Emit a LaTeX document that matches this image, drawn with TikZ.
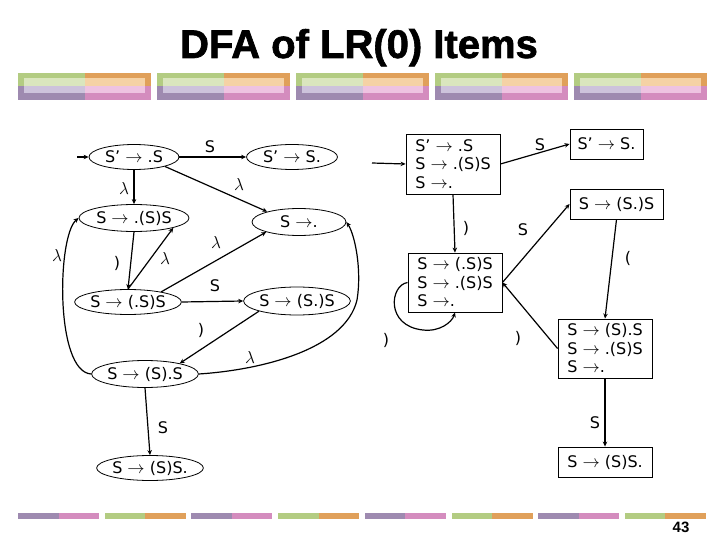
\documentclass[tikz,border=0pt]{standalone}
\usepackage{fontspec}
\setmainfont{DejaVu Sans}
\newfontfamily\titlefont[BoldFeatures={FakeBold=1.6}]{Liberation Sans}
\newfontfamily\pagefont{Liberation Sans}
\usetikzlibrary{shapes.geometric,arrows.meta}
\newcommand{\rarr}{\ensuremath{\rightarrow}}
\definecolor{cg}{RGB}{179,204,130}
\definecolor{co}{RGB}{224,160,90}
\definecolor{cp}{RGB}{158,138,176}
\definecolor{ck}{RGB}{212,140,190}
\definecolor{lg}{RGB}{218,230,190}
\definecolor{lo}{RGB}{245,210,165}
\definecolor{lp}{RGB}{205,195,220}
\definecolor{lk}{RGB}{238,195,225}
\begin{document}
\begin{tikzpicture}[x=1pt,y=-1pt,
  st/.style={ellipse, draw, line width=0.8pt, inner sep=0pt, font=\fontsize{16}{18}\selectfont},
  bx/.style={draw, rectangle, line width=0.9pt, inner sep=0pt, align=left, font=\fontsize{16}{18.5}\selectfont},
  tr/.style={line width=1.2pt, -{Stealth[length=5pt,width=4.5pt]}},
  lb/.style={font=\fontsize{16}{18}\selectfont, inner sep=0pt},
  lam/.style={font=\fontsize{18}{18}\selectfont, inner sep=0pt}]
\useasboundingbox (0,0) rectangle (720,540);
% top decorative bars
\foreach \i in {0,...,4}{
  \pgfmathsetmacro\bx{18+\i*139}
  \fill[cg] (\bx,73) rectangle (\bx+66.5,86.5);
  \fill[co] (\bx+66.5,73) rectangle (\bx+133,86.5);
  \fill[cp] (\bx,86.5) rectangle (\bx+66.5,100);
  \fill[ck] (\bx+66.5,86.5) rectangle (\bx+133,100);
  \fill[lg] (\bx+6,78.5) rectangle (\bx+66.5,86.5);
  \fill[lo] (\bx+66.5,78.5) rectangle (\bx+127,86.5);
  \fill[lp] (\bx+6,86.5) rectangle (\bx+66.5,93.5);
  \fill[lk] (\bx+66.5,86.5) rectangle (\bx+127,93.5);
}
% bottom strips
\foreach \i/\ca/\cb in {0/cp/ck,1/cg/co,2/cp/ck,3/cg/co,4/cp/ck,5/cg/co,6/cp/ck,7/cg/co}{
  \pgfmathsetmacro\sx{18+\i*86.7}
  \fill[\ca] (\sx,513) rectangle (\sx+40.5,519);
  \fill[\cb] (\sx+40.5,513) rectangle (\sx+81,519);
}
\node[anchor=base, font=\titlefont\bfseries\fontsize{40}{42}\selectfont] (title) at (359,58) {DFA of LR(0) Items};
\node[anchor=base, font=\pagefont\bfseries\fontsize{15}{15}\selectfont] (pg) at (681,532) {43};

% ---- NFA (ellipses) ----
\node[st, minimum width=90pt, minimum height=25pt] (e1) at (134,157) {S’ \rarr{} .S};
\node[st, minimum width=91pt, minimum height=25pt] (e2) at (292,157) {S’ \rarr{} S.};
\node[st, minimum width=110pt, minimum height=27pt] (e3) at (134,218) {S \rarr{} .(S)S};
\node[st, minimum width=94pt, minimum height=27pt] (e4) at (299,222) {S \rarr{}.};
\node[st, minimum width=99pt, minimum height=25pt] (e5) at (128,302) {S \rarr{} (.S)S};
\node[st, minimum width=100pt, minimum height=28pt] (e6) at (297,301) {S \rarr{} (S.)S};
\node[st, minimum width=99pt, minimum height=27pt] (e7) at (145,374) {S \rarr{} (S).S};
\node[st, minimum width=99pt, minimum height=25pt] (e8) at (150,468) {S \rarr{} (S)S.};
\coordinate (s1) at (77,157);

\draw[tr] (s1) -- (e1.west);
\draw[tr] (e1.east) -- (e2.west);
\draw[tr] (e1.south) -- (e3.north);
\draw[tr] (e1.-17) -- (e4.162);
\draw[tr] (e3.south) -- (e5.north);
\draw[tr] (e5.north) -- (e3.-14);
\draw[tr] (e5.17) -- (e4.-163);
\draw[tr] (e5.east) -- (e6.west);
\draw[tr] (e6.-165) -- (e7.17);
\draw[tr] (e7.south) -- (e8.north);
\draw[tr] (e7.west) .. controls (55,372) and (57,236) .. (e3.west);
\draw[tr] (e7.east) .. controls (260,370) and (345,350) .. (357,300)
                     .. controls (362,270) and (355,235) .. (e4.east);

\node[lb] (l1) at (210,147) {S};
\node[lam] (l2) at (124,189) {$\lambda$};
\node[lam] (l3) at (239,185) {$\lambda$};
\node[lam] (l4) at (57,255) {$\lambda$};
\node[lb] (l5) at (117,263) {)};
\node[lam] (l6) at (165,258) {$\lambda$};
\node[lam] (l7) at (216,242) {$\lambda$};
\node[lb] (l8) at (215,286) {S};
\node[lb] (l9) at (201,330) {)};
\node[lam] (l10) at (250,357) {$\lambda$};
\node[lb] (l11) at (163,428) {S};

% ---- DFA (boxes) ----
\node[bx, minimum width=94pt, minimum height=60pt] (b1) at (453,164) {S’ \rarr{} .S\\S \rarr{} .(S)S\\S \rarr{}.};
\node[bx, minimum width=73pt, minimum height=30pt] (b2) at (606.5,144) {S’ \rarr{} S.};
\node[bx, minimum width=93pt, minimum height=30pt] (b3) at (616.5,204) {S \rarr{} (S.)S};
\node[bx, minimum width=94pt, minimum height=59pt] (b4) at (455,282.5) {S \rarr{} (.S)S\\S \rarr{} .(S)S\\S \rarr{}.};
\node[bx, minimum width=94pt, minimum height=59pt] (b5) at (605,348.5) {S \rarr{} (S).S\\S \rarr{} .(S)S\\S \rarr{}.};
\node[bx, minimum width=94pt, minimum height=30pt] (b6) at (605,462) {S \rarr{} (S)S.};
\coordinate (s2) at (372,163);

\draw[tr] (s2) -- (b1.west);
\draw[tr] (b1.east) -- (b2.west);
\draw[tr] (b1.south) -- (b4.north);
\draw[tr] (b4.east) -- (b3.west);
\draw[tr] (b5.west) -- (b4.east);
\draw[tr] (b4.west) .. controls (390,285) and (385,326) .. (423,330)
                     .. controls (440,332) and (452,322) .. (b4.south);
\draw[tr] (b3.south) -- (b5.north);
\draw[tr] (b5.south) -- (b6.north);

\node[lb] (m1) at (540,145) {S};
\node[lb] (m2) at (466,228) {)};
\node[lb] (m3) at (523,230) {S};
\node[lb] (m4) at (628,258) {(};
\node[lb] (m5) at (386,340) {)};
\node[lb] (m6) at (518,338) {)};
\node[lb] (m7) at (595,423) {S};
\end{tikzpicture}
\end{document}
